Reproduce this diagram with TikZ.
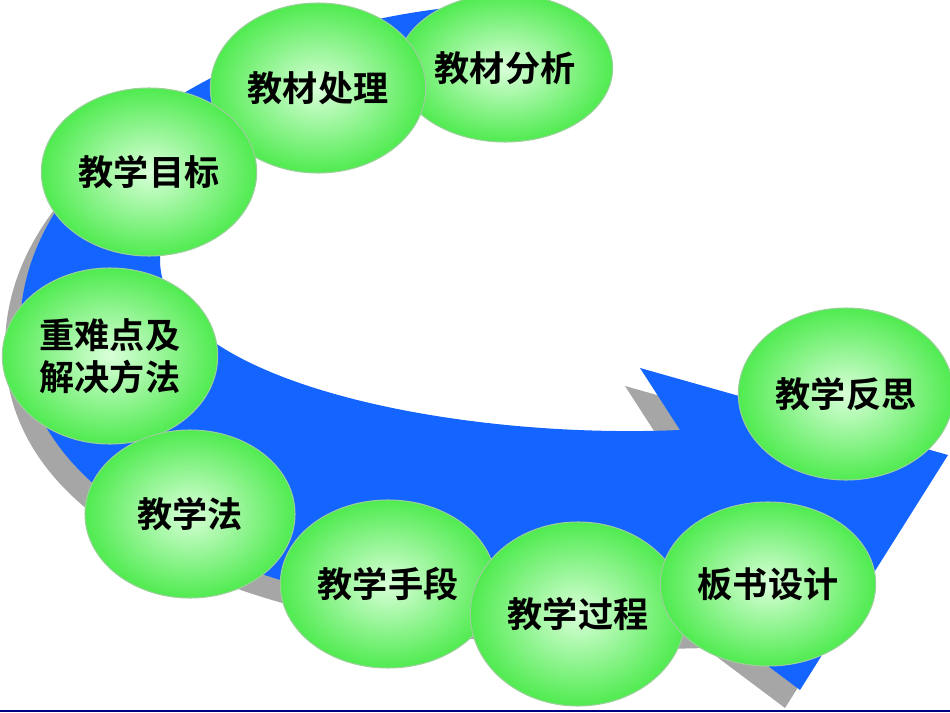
\documentclass[tikz,border=0pt]{standalone}
\usepackage{fontspec}
\usetikzlibrary{shapes.geometric}
\newfontfamily\cjk{Noto Sans CJK SC Bold}
\begin{document}
\begin{tikzpicture}[x=0.02cm,y=-0.02cm]
\useasboundingbox (0,0) rectangle (950,713);
\tikzset{
 ball/.style={draw=green!55!black!40,line width=0.6pt,inner color=white!85!green,outer color={rgb,255:red,80;green,235;blue,80},align=center,font=\cjk\fontsize{20pt}{24pt}\selectfont},
 arrowband/.style={fill={rgb,255:red,20;green,100;blue,255}},
 shadowband/.style={fill=gray!70}}
\def\band{(480,5) .. controls (250,20) and (20,150) .. (20,330) .. controls (20,560) and (400,640) .. (720,630) -- (800,690) -- (948,455) -- (640,368) -- (680,430) .. controls (450,440) and (160,380) .. (160,260) .. controls (160,140) and (350,60) .. (480,40) -- cycle}
\begin{scope}[shift={(-15,18)}]
\fill[shadowband] \band;
\end{scope}
\fill[arrowband] \band;
\node[ball,ellipse,minimum width=188*0.02cm,minimum height=148*0.02cm] (n1) at (505,68) {教材分析};
\node[ball,ellipse,minimum width=180*0.02cm,minimum height=170*0.02cm] (n2) at (318,88) {教材处理};
\node[ball,ellipse,minimum width=202*0.02cm,minimum height=168*0.02cm] (n3) at (149,172) {教学目标};
\node[ball,ellipse,minimum width=202*0.02cm,minimum height=176*0.02cm] (n4) at (110,356) {重难点及\\解决方法};
\node[ball,ellipse,minimum width=210*0.02cm,minimum height=168*0.02cm] (n5) at (190,514) {教学法};
\node[ball,ellipse,minimum width=188*0.02cm,minimum height=168*0.02cm] (n6) at (388,584) {教学手段};
\node[ball,ellipse,minimum width=194*0.02cm,minimum height=184*0.02cm] (n7) at (578,614) {教学过程};
\node[ball,ellipse,minimum width=186*0.02cm,minimum height=164*0.02cm] (n8) at (768,584) {板书设计};
\node[ball,ellipse,minimum width=202*0.02cm,minimum height=172*0.02cm] (n9) at (846,394) {教学反思};
\draw[blue!50!black,line width=0.8pt] (0,711) -- (950,711);
\end{tikzpicture}
\end{document}
